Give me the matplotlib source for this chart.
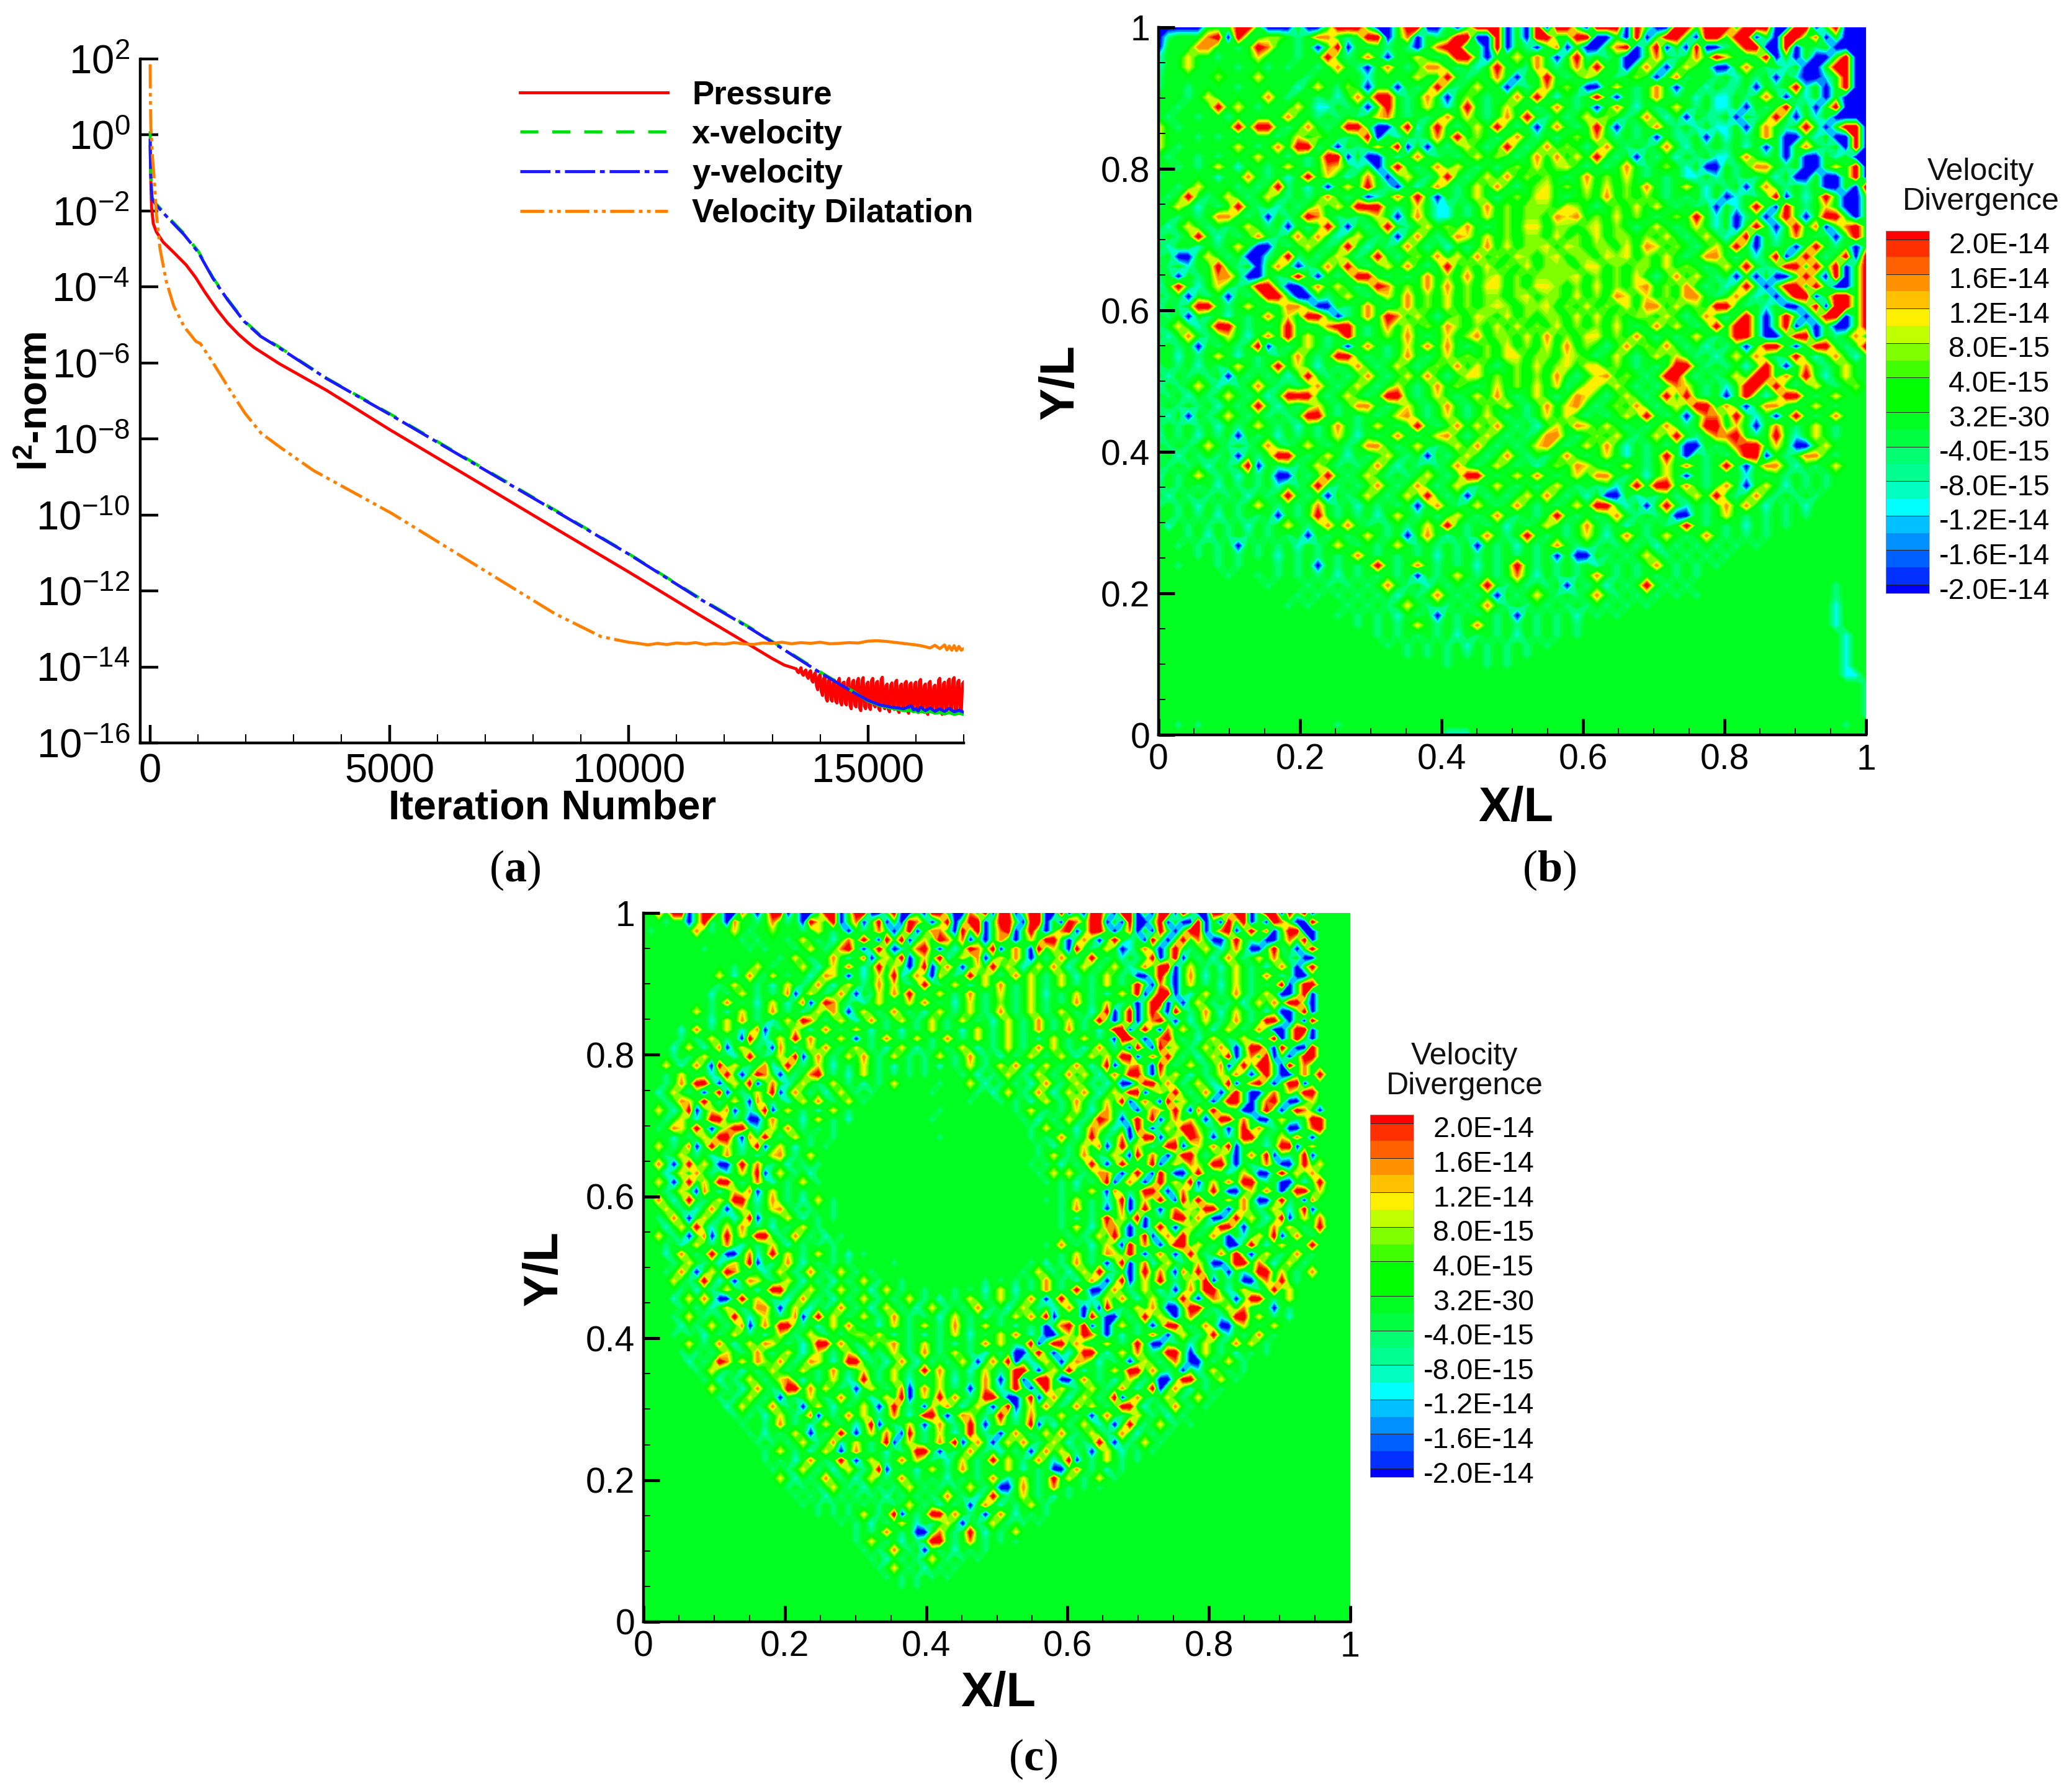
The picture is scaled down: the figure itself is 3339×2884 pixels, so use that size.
import numpy as np
import matplotlib
matplotlib.use('Agg')
import matplotlib.pyplot as plt
from matplotlib.colors import ListedColormap, BoundaryNorm

plt.rcParams['font.family'] = ['Liberation Sans', 'DejaVu Sans']
plt.rcParams['mathtext.fontset'] = 'custom'
plt.rcParams['mathtext.rm'] = 'Liberation Sans'
plt.rcParams['mathtext.bf'] = 'Liberation Serif:bold'
plt.rcParams['mathtext.sf'] = 'Liberation Sans:bold'

# ---------- residual histories (iteration, log10 of norm) ----------
pressure_it = [0, 10, 30, 65, 130, 272, 500, 752, 950, 1141, 1400, 1620, 1850, 2050, 2180, 2700, 3686, 5000, 7000, 8500, 10000, 11500, 12500, 13000, 13250]
pressure_lg = [-0.3, -1.0, -1.9, -2.33, -2.55, -2.82, -3.1, -3.42, -3.75, -4.13, -4.6, -4.95, -5.25, -5.47, -5.6, -6.02, -6.72, -7.75, -9.25, -10.38, -11.5, -12.65, -13.4, -13.78, -13.95]
pressure_noise_it = [13500, 13525, 13550, 13575, 13600, 13625, 13650, 13675, 13700, 13725, 13750, 13775, 13800, 13825, 13850, 13875, 13900, 13925, 13950, 13975, 14000, 14025, 14050, 14075, 14100, 14125, 14150, 14175, 14200, 14225, 14250, 14275, 14300, 14325, 14350, 14375, 14400, 14425, 14450, 14475, 14500, 14525, 14550, 14575, 14600, 14625, 14650, 14675, 14700, 14725, 14750, 14775, 14800, 14825, 14850, 14875, 14900, 14925, 14950, 14975, 15000, 15025, 15050, 15075, 15100, 15125, 15150, 15175, 15200, 15225, 15250, 15275, 15300, 15325, 15350, 15375, 15400, 15425, 15450, 15475, 15500, 15525, 15550, 15575, 15600, 15625, 15650, 15675, 15700, 15725, 15750, 15775, 15800, 15825, 15850, 15875, 15900, 15925, 15950, 15975, 16000, 16025, 16050, 16075, 16100, 16125, 16150, 16175, 16200, 16225, 16250, 16275, 16300, 16325, 16350, 16375, 16400, 16425, 16450, 16475, 16500, 16525, 16550, 16575, 16600, 16625, 16650, 16675, 16700, 16725, 16750, 16775, 16800, 16825, 16850, 16875, 16900, 16925, 16950, 16975, 17000]
pressure_noise_lg = [-14.05, -14.12, -14.15, -14.08, -14.02, -14.18, -14.22, -14.12, -14.08, -14.24, -14.3, -14.14, -14.1, -14.35, -14.4, -14.2, -14.15, -14.5, -14.6, -14.25, -14.2, -14.65, -14.75, -14.3, -14.25, -14.82, -14.9, -14.35, -14.3, -14.85, -14.9, -14.4, -14.35, -14.9, -14.95, -14.38, -14.3, -14.92, -15.0, -14.42, -14.4, -14.95, -15.0, -14.38, -14.3, -15.02, -15.1, -14.4, -14.35, -15.0, -15.05, -14.38, -14.3, -15.08, -15.15, -14.36, -14.28, -15.03, -15.1, -14.45, -14.4, -15.06, -15.12, -14.36, -14.3, -15.0, -15.05, -14.42, -14.38, -15.1, -15.15, -14.33, -14.27, -15.04, -15.1, -14.5, -14.45, -15.12, -15.18, -14.48, -14.42, -15.06, -15.12, -14.4, -14.35, -15.14, -15.2, -14.5, -14.45, -15.05, -15.1, -14.42, -14.38, -15.16, -15.22, -14.47, -14.42, -15.1, -15.15, -14.45, -14.4, -15.13, -15.2, -14.38, -14.33, -15.06, -15.12, -14.5, -14.45, -15.18, -15.25, -14.42, -14.38, -15.1, -15.15, -14.52, -14.48, -15.14, -15.2, -14.35, -14.3, -15.18, -15.25, -14.45, -14.4, -15.1, -15.15, -14.37, -14.32, -15.14, -15.2, -14.33, -14.28, -15.16, -15.22, -14.4, -14.35, -15.12, -15.18, -14.44, -14.4]

xvel_it = [0, 10, 40, 130, 363, 713, 1012, 1310, 1620, 1959, 2309, 2659, 3686, 5000, 7000, 8500, 10000, 11500, 12531, 13000, 14000, 14700]
xvel_lg = [0.1, -0.9, -1.65, -1.82, -2.14, -2.6, -3.07, -3.75, -4.32, -4.88, -5.28, -5.55, -6.4, -7.33, -8.8, -9.9, -11.02, -12.2, -12.96, -13.33, -14.13, -14.65]
yvel_it = [0, 10, 40, 130, 363, 713, 1012, 1310, 1620, 1959, 2309, 2659, 3686, 5000, 7000, 8500, 10000, 11500, 12531, 13000, 14000, 14700]
yvel_lg = [-0.1, -1.0, -1.68, -1.85, -2.17, -2.63, -3.1, -3.77, -4.34, -4.9, -5.3, -5.57, -6.41, -7.35, -8.82, -9.92, -11.03, -12.22, -12.98, -13.35, -14.15, -14.67]
vel_tail_it = [14700, 15000, 15250, 15500, 15750, 15900, 15950, 16000, 16050, 16100, 16200, 16300, 16400, 16500, 16600, 16700, 16800, 16900, 17000]
xvel_tail_lg = [-14.65, -14.9, -15.02, -15.09, -15.15, -15.14, -15.18, -15.16, -15.2, -15.17, -15.2, -15.17, -15.22, -15.2, -15.24, -15.2, -15.25, -15.22, -15.25]
yvel_tail_lg = [-14.67, -14.88, -15.0, -15.06, -15.1, -15.02, -15.13, -15.1, -15.16, -15.06, -15.15, -15.08, -15.17, -15.1, -15.17, -15.09, -15.18, -15.14, -15.19]

dil_it = [0, 5, 15, 50, 90, 130, 207, 337, 493, 713, 955, 1050, 1297, 1706, 1980, 2320, 2730, 3413, 5050, 7100, 8460, 9420, 9800]
dil_lg = [1.86, 1.0, 0.22, -0.6, -1.24, -2.06, -3.0, -3.85, -4.5, -5.05, -5.43, -5.49, -5.96, -6.79, -7.32, -7.85, -8.23, -8.83, -9.96, -11.55, -12.6, -13.2, -13.3]
dil_tail_it = [9800, 10000, 10200, 10400, 10600, 10800, 11000, 11200, 11400, 11600, 11800, 12000, 12200, 12400, 12600, 12800, 13000, 13200, 13400, 13600, 13800, 14000, 14200, 14400, 14600, 14800, 15000, 15200, 15400, 15600, 15800, 16000, 16100, 16200, 16300, 16400, 16500, 16600, 16650, 16700, 16750, 16800, 16850, 16900, 16950, 17000]
dil_tail_lg = [-13.3, -13.35, -13.38, -13.42, -13.38, -13.41, -13.37, -13.39, -13.36, -13.41, -13.38, -13.4, -13.36, -13.39, -13.41, -13.37, -13.38, -13.35, -13.39, -13.36, -13.38, -13.35, -13.39, -13.38, -13.36, -13.37, -13.32, -13.31, -13.33, -13.36, -13.39, -13.42, -13.44, -13.47, -13.5, -13.43, -13.52, -13.42, -13.55, -13.45, -13.56, -13.44, -13.57, -13.46, -13.56, -13.52]

series_labels = ['Pressure', 'x-velocity', 'y-velocity', 'Velocity Dilatation']
exponents = [2, 0, -2, -4, -6, -8, -10, -12, -14, -16]

# ---------- contour bands and colour bar ----------
band_edges = [-2.2, -2.0, -1.8, -1.6, -1.4, -1.2, -1.0, -0.8, -0.6, -0.4, -0.2, 0.0, 0.2, 0.4, 0.6, 0.8, 1.0, 1.2, 1.4, 1.6, 1.8, 2.0, 2.2]
band_colors = ['#0000ff', '#0030ff', '#0060ff', '#0090ff', '#00c0ff', '#00ffff', '#00ffc0', '#00ff90', '#00ff70', '#00ff40', '#00ff20',
               '#00ff00', '#00ff00', '#40ff00', '#80ff00', '#c0ff00', '#fff000', '#ffc000', '#ff9000', '#ff6000', '#ff3000', '#ff0000']
cbar_ticks = [2.0, 1.6, 1.2, 0.8, 0.4, 0.0, -0.4, -0.8, -1.2, -1.6, -2.0]
cbar_labels = ['2.0E-14', '1.6E-14', '1.2E-14', '8.0E-15', '4.0E-15', '3.2E-30', '-4.0E-15', '-8.0E-15', '-1.2E-14', '-1.6E-14', '-2.0E-14']
cell_key = {'.': 0.0, 'l': 0.7, 'y': 1.1, 'o': 1.6, 'r': 2.5, 't': -0.6, 'c': -1.1, 's': -1.6, 'b': -2.5}

# velocity divergence (units 1E-14) read by eye, top row is Y/L = 1
field_b = [
"bbbbb...rr.bbb.bb.rrr.bb.rrbb.b.rrrb.brbrr.brrrbr.bbrr.rrr.rrrbbrrb.rbbb",
"bt...orbr..ll.t.oo.t.rrb.ob.t.rrbbrb.brr..rrbb.brb.rr.brr.rrb.brr.ob.bbb",
"b...oo..t.ro..t.b.rb.t.t.tb.orrt.brb.tb.ob.bb.orb.rb.brbbt.rrbbrb.t.bbbb",
"c..y..t...y...t..r.t.o.b..y.t.rr.b..y.o.b.rt.t.bb.o.t.o.ry.t.rb.b.bb.rbb",
"c..y....t..t.t..t.o.tb.o.t.oo.t.c.r..to.t.o.r..b.o.b.y..bb.o.t.c.bb.rrbb",
"t.....l...y....t.....c....y..r.t..o.b..r.t.y..t.l.b.ot..t.c.t.b.cbbc.rbb",
"t..t....t.....c.y.tl.b..b.t.r.t.y..b.t.o.l.bb.y.t.o.b..c.tt.b.t.rc.b.rbb",
"...t.y.....o.t..t.c.o.rr.t.o.b.l.t..o.r.c.t.r.b.t.o.t.c.cc.t.o.b.c.b.bbb",
"..t...r.y.t...y.cc.t.b.r.t.y.c.r.t.y..t.o.t.b.o.c.t.y.t.cc.b.t.rc.b.rbbb",
".t..t..t.....o..t.t.t.yo.t.t.o.y.t.o.r.t.t.y.l.t.o.c.b.tt.b.t.r.b.c.bbbb",
"y.t.....r.rr.t.o.t.rr.bb.rc.r.t.y.r.t.b.o.t.r.b.t.o.t.c.cc.b.o.t.r.b.rrb",
"y...t.t.t...t.y.l..t.rb.c.t.o.r.l.t.o.t.t.l.o.t.t.b.tt.b.c.t.o.bb.c.bbrb",
"y.t.....y.t.o.rrt.b.t.y.rb.b.t.y.t.r.t.o.l.t.o.t.t.o.c.t.t.c.b.b.o.t.brb",
".t..t.t...y..t.t.rrb.bb.c.o.t.t.y.l.t.o.o.y.r.t.b.t.c.t.cc.o.t.b.bb.c.bb",
"..t.t.y.c..t.y.t.oy.c.b.r.t.o.y.t.t.l.y.ly.t.t.o.t.l.c.bb.t.oo.t.bb.y.rb",
"t.....c..o.t.c.r.y.c.o.b.y.t.r.t.y.o.l.l.t.o.l.y.t.t.cc.c.t.t.c.bb.bb.rb",
"..t.y...t.t.rt.c.b.y.r.tb.c.o.t.y.o.t.ly.l.y.y.l.o.t.y.c.t.b.o.t.t.bb.br",
".t.r.t.y.t.y.t.t.o.t.bc.o.r.b.t.y.t.l.yy.t.l.o.l.l.t.t.c.bc.t.rb.c.r.bb.",
"t.y.c.t.r.t.c.t.y.y.rrr.t.y.cc.t.o.l.lll.yl.t.l.y.y.t.t.b.c.r.br.t.y.bb",
"..t.t.oo.t.b.t.ro.t.t.y.b.o.cc.t.y.l.ll.oyo.l.y.l.t.l.r.c.bt.b.r.b.rr.b",
".c.y.t.t.y.t.b.t.r.b.t.r.t.y.l.o.t.l.yy.ll.ly.l.t.y.t.y.c.b.r.b.r.ob.or",
"t.t.r.c.t.o.t.o.o.c.y.t.b.o.t.oy.y.l.ll.y.l.y.ll.l.y.t.y.c.rb.c.o.t.b.r",
".c..c.t.y.bb.t.y.t.r.c.t.o.t.c.t.o.y.lly.yl.ll.y.oy.l.t.y.r.b.t.b.r.t.b",
"t.bb.y.t.bbt.rt.t.y.t.r.t.l.o.y.o.l.yl.ly.ll.yly.l.y.t.oo.t.c.rb.r.t.rbr",
".t.c..r.t.b.o.bt.o.r.t.y.o.t.r.l.y.l.y.lll.yy.l.ll.y.l.t.y.r.t.rr.r.rb.r",
"t.b.t.oo.bb.t.r.b.t.rr.t.t.o.l.o.ly.l.lllly.l.l.y.t.o.y.t.b.b.bb.r.brb.r",
"c.r.c.y.t.rr.bb.o.y.t.ro.l.o.o.l.yy.l.yyl.l.y.l.yo.l.o.t.c.r.b.rr.r.bb.r",
".t.b.t.b.t.rr.bb.t.y.t.y.o.l.y.l.ll.ly.ll.y.l.oy.y.l.oo.t.o.c.b.rrb.rr.r",
"c.t.rr.t.y.t.oo.bb.t.o.t.o.l.y.l.lyl.lly.l.y.l.y.oo.y.l.rr.t.c.bb.rbrr.r",
".t.b.t.c.t.o.y.rr.bt.o.ro.y.t.l.yl.y.l.ll.y.y.l.ll.y.t.o.t.r.b.r.b.rrb.r",
"t.y.c.rr.t.t.r.t.orr.t.o.y.l.ol.l.y.y.l.y.l.l.y.t.o.y.t.r.rr.b.rb.b.bb.r",
".c.o.t.y.c.o.r.y.t.r.t.l.o.t.y.lo.ll.y.o.l.yy.l.o.t.t.y.t.rr.bb.rrb.t.o",
"t.t.b.t.t.rb.t.y.t.b.o.t.y.o.o.t.l.y.l.y.o.l.t.o.l.o.t.c.t.b.rr.b.rr.t.r",
"..c.t.y.c.t.t.o.t.rr.t.t.o.t.y.l.l.yy.ll.yl.t.y.t.y.y.t.c.y.o.t.r.c.o.c.",
"t.t.c.t.y.t.r.y.c.t.o.t.y.t.l.o.y.t.l.y.ly.yy.l.t.t.rr.t.t.c.r.b.o.t.y.",
".c.t.t.b.t.t.c.r.t.t.o.t.y.o.t.yy.l.l.l.o.t.yo.l.t.rr.t.t.y.rr.o.r.c.y.",
"c.t.y.c.t.o.t.t.o.t.y.t.y.t.o.l.t.y.l.y.yt.yy.y.t.t.oy.t.c.rr.r.t.y.t.l",
".t.c.t.y.t.c.rrr.t.y.t.rr.t.y.t.y.o.t.y.t.oy.t.y.t.r.r.t.b.r.c.rr.t.y..",
"t.t.t.c.t.r.c.t.y.t.oo.t.y.t.o.t.l.y.t.o.yo.t.l.o.t.y.rr.o.b.oo.t.y.t..",
".c.b.t.y.t.t.t.rr.t.t.t.yo.t.y.t.y.t.t.y.y.t.t.y.r.t.b.oo.r.c.b.r.t.o..",
"t.t.t.c.t.y.t.c.t.o.t.y.t.r.t.o.y.o.t.c.y.oy.y.t.t.o.t.rr.y.b.o.t.y.t..",
"c.t.c.t.b.t.c.t.t.y.c.t.o.t.yo.t.y.t.t.oo.t.l.y.t.y.r.t.oor.t.r.c.y.t..",
".t.t.y.t.t.o.t.y.t.t.oo.t.y.t.y.o.t.t.yo.t.y.o.c.t.t.bb.t.orr.y.bb.y...",
"t.c.t.t.b.t.rr.t.y.c.t.y.t.b.t.y.t.o.t.t.o.t.y.c.t.r.b.t.t.rrb.t.oo.t..",
".t.t.c.t.rb.t.t.y.t.t.o.c.t.t.o.t.y.t.c.l.oy.t.y.t.y.o.t.r.b.oo.c.t.y..",
"c.t.y.t.c.t.bb.t.r.t.y.t.t.y.t.rr.t.y.o.t.y.oo.t.c.y.b.t.t.c.t.t.t.t...",
"t.t.t.c.t.t.c.t.r.t.t.o.t.o.t.y.t.y.t.t.y.t.t.c.r.rr.o.t.o.b.y.c.t.t...",
".c.t.t.t.c.t.r.t.b.t.y.t.y.r.t.b.t.t.y.o.t.c.bb.c.t.t.y.r.t.o.t.t.t....",
"t.t.c.t.t.y.t.t.o.t.c.t.t.b.o.t.y.t.o.t.t.y.rr.c.b.r.c.t.o.o.c.t.c.....",
"..t.t.c.t.t.b.t.r.t.t.c.y.t.t.y.t.o.t.t.r.t.t.o.t.t.bb.t.y.t.t.t.t.....",
".c.t.t.t.c.t.y.t.o.o.t.t.t.y.r.t.t.c.t.y.t.o.t.c.t.t.r.t.t.c.t.t.......",
"...t.c.t.t.t.t.b.t.t.y.t.b.o.c.t.o.t.r.t.t.y.c.o.t.y.t.o.t.t.t.........",
"..t.t.t.b.t.t.c.t.y.t.t.y.t.t.t.b.t.c.t.o.t.t.t.t.c.t.t.t.t.t..........",
"....t.t.t.t.c.t.t.t.o.t.t.t.c.t.t.t.t.t.b.bb.t.t.y.t.t.t.t.............",
"..t...t.t...t.t.b.t.t.r.t.o.t.t.c.t.r.t.t.t.c.t.t.o.t.t.t..............",
".......t..t.t.t.t.c.t.t.t.b.t.y.t.t.o.c.t.t.o.t.t.t.t.t................",
"...........t...t.t.t.t.o.t.c.t.t.r.t.t.t.b.t.c.t.r.t.t..............t..",
"..............t.t.t.t.t.c.t.o.t.t.b.t.y.t.t.o.t.t.t.t.t.............t..",
".............t.t...t.t.t.y.t.t.t.o.t.t.t.t.t.t.t.t..................c..",
"..................t.t.t.c.t.b.t.t.t.b.t.t.c.t.t.....................c..",
"....................t.t.t.y.t.t.o.t.t.t.t.t.........................c..",
"......................t.t.t.t.c.t.t.c.t.t.t..........................c.",
".......................t.t.t.t.c.t.t.t.t.............................c.",
".........................t.t.t.t.t.t.t...............................c.",
".............................t...t.t.................................c.",
".....................................................................cc",
".......................................................................t",
".......................................................................t",
".......................................................................t",
".......................................................................t",
"..t.t.............t..................................................t.",
".............................ccc.......................................c",
]
field_c = [
"..o.rrb.rr.bbo.b.rrb.bb.rrb.rrbb.rbb.brr.bbo.rbrrb.rrbbrb.brr.brrb.brrbr.bbrr.rrb.rrbr.rb",
"...t..b.rt.bo..t.o.t.bry.rb.ob.rb.bro.b.rb.rrb.rr.brrb.bro.rrb.brbb.rb.bbrb.br.rb.bro.bbr",
".t.....o.t..y.t..l...t.y.t.b.t.o.b.rb.oo.br.rb.orb.r.b.orb.rr.b.ob.br.b.rrb.orb.r.ob.rrbb",
".............t.t...t.y.t.c.o.r.br.rb.y.ro.ob.b.o.b.y.rr.b.o.b.r.c.br.b.r.o.bb.r.t.bb.o.rb",
"........t.....t.t...t.y.t.or.b.r.bc.or.b.c.ro.rb.o.br.y.br.t.y.bc.o.b.r.t.y.c.o.bb.rt.b.r",
"..................t.y.t..o.c.ob.y.rb.y.rc.y.ob.y.o.b.t.o.t.r.t.c.t.rb.rb.t.c.o.t.y.o.t.bb",
"............t..y.t...y.c.y.o.c.r.y.b.rb.o.b.y.r.y.c.y.o.c.y.t.y.c.o.rrb.y.t.c.y.t.c.o.b.r",
"..........y.c.o.ty.t..c.oy.b.c.y.rc.o.by.t.r.y.t.o.y.t.y.c.t.y.t.bb.r.b.o.c.t.y.t.o.c.bb",
"..........t.y..t.c.y.t.o.c.y.t.o.y.t.r.t.y.c.y.o.t.y.t.y.t.t.y.t.r.bo.b.y.t.c.y.t.t.rb.rr",
".........c.t.y.t.t.ob.y.t.o.b.ty.o.r.t.y.t.o.t.y.t.y.c.t.y.t.c.y.rb.rrb.c.y.t.o.t.y.bb.rb",
".........t.o.t.c.y.c.ob.ro.t.c.y.t.y.o.t.c.y.t.l.t.y.t.t.o.t.y.t.b.rrb.b.y.t.t.c.y.o.rr.b",
".......y.t.c.y.t.o.t.c.y.o.b.y.t.o.t.c.y.t.y.t.o.t.y.t.y.t.c.rb.rb.r.br.t.o.c.y.t.c.bb.rb",
".......t.c.y.o.t.c.y.ro.t.y.c.o.t.y.t.y.t.y.t.c.y.t.o.t.y.t.r.b.rb.or.b.c.y.t.o.t.rr.b.br",
".....c.o.t.y.c.ob.t.y.c.o.t.y.c.t.c.t.y.t.c.y.t.y.t.o.t.o.t.c.rrb.r.bo.y.t.c.y.t.o.bb.rrb",
".....t.t.y.t.br.c.y.r.o.t.y.b.t.o.t.y.t.o.t.y.t.y.t.c.y.t.y.t.brr.b.or.t.c.y.t.y.c.rb.r.b",
"....c.y.c.ob.y.t.bo.c.y.o.t.y.t.c.y.c.t.t.y.c.t.y.t.o.y.t.c.o.t.br.br.y.t.y.o.b.rr.br.bbr",
"....t.t.y.t.c.r.t.y.rb.o.t.y.o.t.y.t.t.y.t.o.t.c.t.y.t.y.c.y.y.rrb.o.r.t.c.y.rb.o.rb.b.rr",
"...y.c.o.br.y.t.oc.r.t.y.c.t.y.t.c.t.t.c.t.y.t.y.o.c.y.t.o.c.rb.yo.br.t.y.t.ob.r.rr.br.o.",
"...t.y.t.c.r.b.ro.b.t.or.t.c.y.t.t.t.t....t.c.t.y.t.y.t.o.y.c.o.rr.bo.y.c.t.y.o.b.r.bb.o.r",
"...t.o.rr.b.y.rb.o.c.y.t.y.t.c.t.y.....t...y.c.t.t.c.o.t.y.t.c.bb.rr.o.t.y.c.rb.or.b.rrb.",
"..c.y.t.b.rb.t.y.rb.o.t.c.y.t.t.......t.....t.c.y.t.o.c.y.o.c.y.rrb.y.r.t.o.b.r.bb.o.y.rr",
"...t.oy.r.t.y.bo.t.c.y.o.t.y.t.............t...t.t.c.y.t.o.t.y.rb.o.br.y.t.b.rr.b.or.bb.y",
"..y.c.rb.y.ob.c.rb.y.t.c.y.t...........t.........t.y.t.t.y.c.o.t.b.oy.r.bo.r.t.bb.r.b.ro.b",
"...t.y.c.rr.t.bb.o.t.c.y.t.c..........t...........t.c.t.y.t.ro.b.r.rb.o.y.b.rr.o.bb.y.t.rr",
"..t.oy.r.b.yrr.c.y.o.t.t.t.........................t.y.t.c.oy.c.br.b.y.rrl.t.b.r.o.t.bb.or",
"....c.t.y.rr.bo.r.t.y.t..t.............t...........t.t.o.t.r.t.ob.rrb.y.ro.b.c.rr.t.y.o.b.",
"..y.t.ob.r.y.c.rb.y.c.t.t...........................t.c.t.y.ob.r.y.c.rrb.y.o.rb.t.c.rrb.y.",
"...t.y.t.c.o.t.c.yo.t.y.............................t.y.t.o.t.y.br.o.b.rr.t.y.b.o.rb.t.rb.",
"..o.b.r.y.bb.r.o.t.c.t.t...........................t.t.c.t.r.b.r.t.rb.y.ol.rr.b.t.o.bb.r.y",
"...c.y.o.t.c.y.rb.y.t.c.............................t.y.y.t.oo.b.r.br.bb.r.t.c.y.bb.r.y.o.",
"..y.b.r.y.rr.t.o.c.t.y.t.............................t.t.c.t.rb.o.b.r.y.rb.y.o.rr.t.bb.c.r",
"...t.y.bo.c.y.ob.y.t.t.................................t.t.y.bo.t.rr.b.o.c.r.bb.y.o.b.rr.y",
"..o.c.r.t.y.rr.c.o.t.c.y.t...........................t.t.y.t.c.rb.y.r.br.r.t.y.o.bb.rt.bo.",
"...y.t.c.o.b.y.t.yo.t.t..t.............................t.o.t.b.ob.r.b.o.y.rr.b.o.t.y.c.rb.",
"..t.o.b.y.t.c.rb.t.y.c.t.t.............................t.c.t.r.y.rb.t.rr.o.bb.r.y.c.rb.y.o",
"...c.y.r.c.y.o.t.c.t.y.t...............................t.y.c.oo.b.b.r.b.y.t.rr.b.t.o.y.t.r",
"..y.t.b.ob.r.y.rr.t.o.t.c.t.............................t.t.y.r.b.rb.o.r.t.o.b.c.y.rb.o.t.",
"...t.c.y.t.o.c.t.y.c.t.t.t...........................t.o.t.c.y.br.o.b.rr.y.t.bb.r.c.y.t.r.",
"...c.o.t.r.bb.oc.r.y.t.y.t.c.t.........................t.y.t.oy.r.b.o.b.r.t.o.r.b.y.t.o.t.",
"....t.y.t.c.y.rb.t.o.c.t.t.t.....t.................t.c.t.o.t.b.rb.oc.y.t.y.bb.rr.o.c.y.t..",
"...t.o.b.y.ro.t.c.y.t.o.t.y.t.t...................t.y.t.c.y.r.t.b.r.o.bo.r.t.b.c.rr.y.t.o.",
"....y.t.r.c.b.oy.t.y.c.t.c.t.y.t..t..........t.t.t.t.o.t.c.o.b.rb.y.r.t.y.rb.t.bb.o.r.t...",
".....t.c.t.y.t.c.rr.t.y.t.y.t.c.y.t..t...t.t.c.y.c.t.o.t.r.bb.o.t.y.c.b.o.rr.c.y.t.r.y....",
"....c.y.o.bb.r.y.t.c.o.t.c.t.y.t.t.y.t.c.t.y.t.y.t.o.b.r.t.c.y.o.c.y.t.r.b.oy.b.rr.t.y....",
".....t.t.c.y.t.oo.b.y.c.t.o.t.c.y.t.c.y.t.t.o.t.c.y.t.c.o.b.br.t.y.o.bb.rr.t.y.o.t.b.t....",
"....t.y.t.t.r.c.y.t.ob.r.y.t.y.t.o.t.t.c.y.t.c.t.y.o.rb.t.br.bb.t.r.y.b.o.t.c.rr.y.t.c....",
".....c.t.y.t.ob.o.rr.t.c.y.o.t.c.y.t.y.t.o.t.y.t.c.t.b.or.rb.b.y.t.b.rr.t.o.bb.y.t.y......",
"....t.t.c.t.y.t.c.y.t.y.t.t.ll.y.c.t.c.t.y.c.t.y.o.c.bb.y.ro.b.c.t.o.b.y.t.r.c.t.o.t......",
"......y.t.o.c.y.oy.t.c.rr.o.t.y.lo.t.y.t.c.t.o.y.t.rb.rr.o.t.y.t.r.bb.t.c.y.t.o.y.t.......",
".....t.t.t.y.t.o.t.y.c.y.t.y.c.t.y.t.o.t.y.t.c.t.bb.r.b.c.rr.c.y.o.t.rr.b.y.t.c.t.t.......",
"......c.t.ro.y.ol.o.t.oy.c.rr.t.c.o.c.t.t.y.b.o.rb.c.y.b.oy.c.t.b.y.t.o.bb.t.y.t..........",
".......t.y.t.c.t.y.t.y.t.o.t.y.t.y.t.r.o.t.c.y.t.rr.b.y.r.c.t.y.rr.o.t.b.c.y.t.t.........",
"........t.c.t.y.t.yo.c.t.y.c.r.t.y.c.t.y.c.t.o.b.rb.rr.bb.o.t.c.y.t.bb.rr.t.y.t...........",
".........y.t.c.o.t.rr.o.y.t.b.y.t.ob.o.y.t.b.o.c.r.b.r.y.t.y.t.o.c.rb.o.c.t.t.............",
"..........t.t.y.t.b.t.y.t.o.t.c.y.rb.y.r.o.t.rr.bb.rb.o.c.y.t.rb.o.t.y.t.y.t..............",
"...........c.y.t.o.t.b.y.c.t.y.b.r.t.by.o.c.y.b.rb.y.o.t.o.y.t.rr.c.t.o.t.t...............",
"............t.t.c.y.t.ob.t.o.y.t.o.c.rr.b.oy.t.r.c.o.t.y.t.b.o.t.y.t.c.t..................",
".............t..t.o.t.c.y.t.c.rb.t.y.b.o.t.r.b.y.t.rb.c.t.y.c.b.r.t.y.t.t..................",
"..............t.c.t.y.b.t.r.b.y.o.br.t.y.c.r.t.b.o.t.y.o.t.y.t.o.c.t.t.....................",
"...............t.t.t.y.t.oc.y.t.rb.y.t.o.rb.o.b.y.o.t.y.c.t.r.b.t.y.t......................",
"................t.y.t.c.y.b.o.t.c.t.rr.b.t.o.t.c.t.b.o.y.t.b.y.c.t.t.......................",
"................t.t.c.o.t.r.b.y.t.o.y.t.c.y.t.r.y.t.o.c.rb.t.y.t.t.........................",
".................t.t.y.t.c.y.t.rb.t.c.y.t.o.t.t.y.c.t.bb.o.t.c.t...........................",
"..................y.c.t.o.t.c.y.t.o.t.t.c.t.t.o.c.y.t.r.y.t.y.t............................",
"...................t.t.t.y.t.c.t.t.y.t.t.t.y.t.bb.o.t.o.t.t.t..............................",
"....................t.t.c.t.t.t.c.t.t.t.o.t.c.r.t.y.t.c.t..................................",
".....................t.t.t.t.t.t.t.y.t.c.t.b.o.c.t.y.t.....................................",
".......................t.t.t.y.t.rb.t.rr.o.t.b.o.c.t.t.....................................",
"..........................t.t.c.t.y.c.t.y.b.t.y.t.t.t......................................",
"............................t.t.o.t.bb.o.t.r.c.t.y.........................................",
"............................t.y.t.c.t.rr.t.o.t.t.t..........................................",
".............................t.t.o.t.b.t.c.t.t...............................................",
"..............................t.c.t.t.y.t.t.t................................................",
"...............................t.y.t.c.t.t...................................................",
"................................t.t.t.t.t....................................................",
"..................................t.t.........................................................",
"..........................................................................................",
"..........................................................................................",
"..........................................................................................",
"..........................................................................................",
]

# ---------- layout ----------
W, H = 3339, 2884
fig = plt.figure(figsize=(W / 100, H / 100), dpi=100, facecolor='white')

def box(l, t, r, b):
    return [l / W, 1 - b / H, (r - l) / W, (b - t) / H]

def at(x, y):
    return x / W, 1 - y / H

def style_spines(ax):
    ax.spines['top'].set_visible(False)
    ax.spines['right'].set_visible(False)
    for s in ('left', 'bottom'):
        ax.spines[s].set_linewidth(3.2)

# ---------- panel (a) ----------
ax = fig.add_axes(box(226, 95, 1553, 1197))
red, green, blue, orange = '#ff0000', '#00dd11', '#1a1aff', '#ff8000'
lw = 3.5
ax.semilogy(pressure_it + pressure_noise_it, 10.0 ** np.array(pressure_lg + pressure_noise_lg), color=red, lw=lw, label=series_labels[0], zorder=2)
ax.semilogy(xvel_it, 10.0 ** np.array(xvel_lg), color=green, lw=lw, dashes=(6, 4.6), label=series_labels[1], zorder=3)
ax.semilogy(vel_tail_it, 10.0 ** np.array(xvel_tail_lg), color=green, lw=lw, zorder=3)
ax.semilogy(yvel_it, 10.0 ** np.array(yvel_lg), color=blue, lw=lw, dashes=(10, 1.6, 1.6, 1.6), label=series_labels[2], zorder=4)
ax.semilogy(vel_tail_it, 10.0 ** np.array(yvel_tail_lg), color=blue, lw=lw, zorder=4)
ax.semilogy(dil_it, 10.0 ** np.array(dil_lg), color=orange, lw=lw, dashes=(8, 1.5, 1.2, 1.5, 1.2, 1.5), label=series_labels[3], zorder=5)
ax.semilogy(dil_tail_it, 10.0 ** np.array(dil_tail_lg), color=orange, lw=lw, zorder=5)
ax.set_xlim(-207, 17000)
ax.set_ylim(1e-16, 1e2)
style_spines(ax)
ax.set_yticks([10.0 ** e for e in exponents], [r'$\mathregular{10^{%d}}$' % e for e in exponents])
ax.minorticks_off()
ax.set_xticks([0, 5000, 10000, 15000], ['0', '5000', '10000', '15000'])
ax.set_xticks(np.arange(0, 17001, 1000), minor=True)
ax.tick_params(axis='both', which='major', direction='in', length=21, width=3.2, labelsize=47, pad=12)
ax.tick_params(axis='x', which='minor', direction='in', length=10, width=1.5)
ax.tick_params(axis='y', which='minor', length=0)
ax.set_xlabel('Iteration Number', fontsize=47.5, fontweight='bold', ha='center', va='center')
ax.xaxis.set_label_coords(*at(890, 1302), transform=fig.transFigure)
ax.set_ylabel(r'l$\mathsf{^2}$-norm', fontsize=46, fontweight='bold', ha='center', va='center')
ax.yaxis.set_label_coords(*at(58, 647), transform=fig.transFigure)
ax.legend(loc='upper left', bbox_to_anchor=at(838, 128), bbox_transform=fig.transFigure, frameon=False,
          prop={'family': 'Liberation Sans', 'weight': 'bold', 'size': 38}, handlelength=4.5, handletextpad=0.75,
          labelspacing=0.26, borderpad=0, borderaxespad=0)

# ---------- panels (b), (c) ----------
def field_panel(rows, ax_box, cb_box, title_xy, xlab_xy, ylab_xy):
    n = max(len(r) for r in rows)
    Z = np.array([[cell_key[c] for c in r.ljust(n, '.')[:n]] for r in rows])
    xs = np.linspace(0, 1, n)
    ys = np.linspace(1, 0, len(rows))
    cmap = ListedColormap(band_colors)
    cmap.set_under('#0000ff')
    cmap.set_over('#ff0000')
    norm = BoundaryNorm(band_edges, cmap.N)
    a = fig.add_axes(box(*ax_box))
    a.contourf(xs, ys, Z, levels=band_edges, cmap=cmap, norm=norm, extend='both', antialiased=False)
    a.set_xlim(0, 1)
    a.set_ylim(0, 1)
    style_spines(a)
    t = [0, 0.2, 0.4, 0.6, 0.8, 1]
    tl = ['0', '0.2', '0.4', '0.6', '0.8', '1']
    a.set_xticks(t, tl)
    a.set_yticks(t, tl)
    a.set_xticks(np.arange(0, 1.001, 0.05), minor=True)
    a.set_yticks(np.arange(0, 1.001, 0.05), minor=True)
    a.tick_params(axis='both', which='major', direction='in', length=19, width=3.6, labelsize=41, pad=10)
    a.tick_params(axis='both', which='minor', direction='in', length=8, width=1.4)
    a.set_xlabel('X/L', fontsize=56, fontweight='bold', ha='center', va='center')
    a.xaxis.set_label_coords(*at(*xlab_xy), transform=fig.transFigure)
    a.set_ylabel('Y/L', fontsize=56, fontweight='bold', ha='center', va='center')
    a.yaxis.set_label_coords(*at(*ylab_xy), transform=fig.transFigure)

    c = fig.add_axes(box(*cb_box))
    c.pcolormesh([0, 1], band_edges, np.arange(len(band_colors)).reshape(-1, 1), cmap=ListedColormap(band_colors))
    c.set_xlim(0, 1)
    c.set_ylim(-2.1, 2.1)
    c.set_xticks([])
    c.hlines(cbar_ticks, 0, 1, color='#222222', lw=0.7)
    c.yaxis.tick_right()
    c.set_yticks([v - 0.04 for v in cbar_ticks], cbar_labels)
    c.tick_params(axis='y', length=0, labelsize=33.5, pad=140)
    for lab in c.get_yticklabels():
        lab.set_ha('right')
    for s in c.spines.values():
        s.set_linewidth(0.5)
        s.set_color('#999999')
    fig.text(*at(*title_xy), 'Velocity\nDivergence', fontsize=36, ha='center', va='center', linespacing=1.05, color='#111111')

field_panel(field_b, (1867, 44, 3007, 1184), (3039, 372, 3109, 956), (3192, 301), (2443, 1302), (1709, 615))
field_panel(field_c, (1037, 1471, 2176, 2613), (2208, 1796, 2278, 2380), (2360, 1726), (1609, 2729), (877, 2044))

# ---------- captions ----------
cap = {'fontsize': 52, 'family': 'Liberation Serif', 'ha': 'center', 'va': 'center'}
fig.text(*at(830, 1402), r'($\mathbf{a}$)', **cap)
fig.text(*at(2497, 1402), r'($\mathbf{b}$)', **cap)
fig.text(*at(1665, 2834), r'($\mathbf{c}$)', **cap)

fig.savefig('out.png', dpi=100, facecolor='white')
